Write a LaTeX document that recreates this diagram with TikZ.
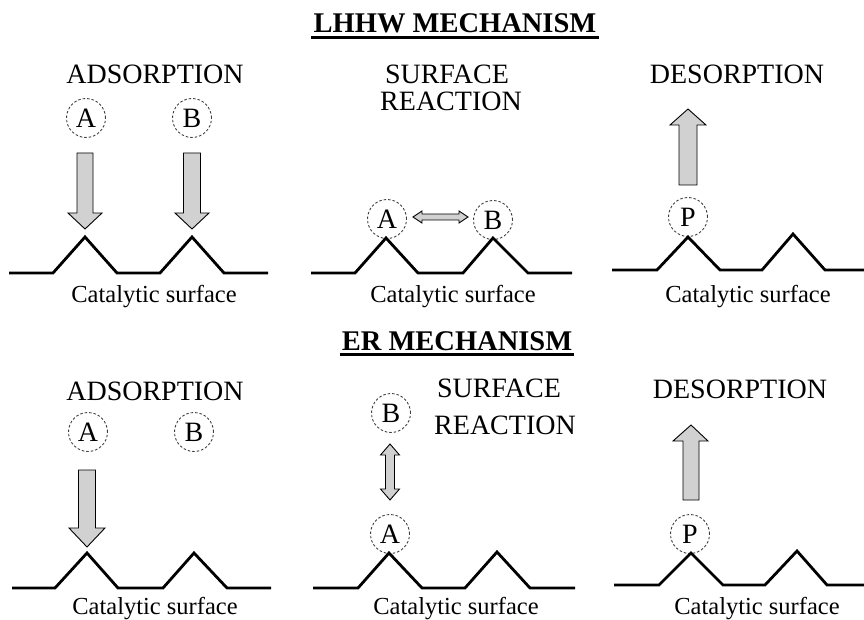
\documentclass[tikz,border=0pt]{standalone}
\usepackage{fontspec}
\setmainfont{Liberation Serif}
\usetikzlibrary{positioning}

\begin{document}
\begin{tikzpicture}[x=1pt, y=-1pt,
    mol/.style={circle, draw=black!75, dash pattern=on 2.5pt off 2pt, line width=0.9pt,
                minimum size=39pt, inner sep=0pt, font=\fontsize{28}{28}\selectfont},
    head/.style={anchor=base, inner sep=0pt, font=\fontsize{28}{28}\selectfont},
    mech/.style={anchor=base, inner sep=0pt, font=\fontsize{28.5}{28.5}\selectfont\bfseries},
    cat/.style={anchor=base, inner sep=0pt, font=\fontsize{24.5}{24.5}\selectfont},
    surf/.style={line width=2.8pt, line join=miter},
    fat/.style={draw, fill=black!18, line width=0.9pt, line join=miter}]
  \useasboundingbox (0,0) rectangle (864,620);

  % LHHW mechanism
  \node[mech] (lhhw) at (455,33) {LHHW MECHANISM};
  \draw[line width=3pt] ([xshift=-2pt, yshift=-4.5pt]lhhw.base west) -- ([xshift=2pt, yshift=-4.5pt]lhhw.base east);

  % adsorption
  \node[head] (ads1) at (155,84) {ADSORPTION};
  \node[mol] (A1) at (86,118) {A};
  \node[mol] (B1) at (192,118) {B};
  \draw[fat] (77,153) -- (93,153) -- (93,213) -- (102,213) -- (85,229) -- (68,213) -- (77,213) -- cycle;
  \draw[fat] (183.5,153) -- (200.5,153) -- (200.5,213) -- (209,213) -- (192,229) -- (175,213) -- (183.5,213) -- cycle;
  \draw[surf] (9,273) -- (53,273) -- (85,237) -- (117,273) -- (160,273) -- (192,237) -- (224,273) -- (268,273);
  \node[cat] (cat1) at (154,302) {Catalytic surface};

  % surface reaction
  \node[head] (sr1) at (447,84) {SURFACE};
  \node[head] (rx1) at (451,111) {REACTION};
  \node[mol] (A2) at (387,219) {A};
  \node[mol] (B2) at (493,220) {B};
  \draw[fat] (413,217) -- (422,211) -- (422,214) -- (459,214) -- (459,211) -- (468,217)
             -- (459,223) -- (459,220) -- (422,220) -- (422,223) -- cycle;
  \draw[surf] (311,273) -- (355,273) -- (386,238) -- (418,273) -- (463,273) -- (493,238) -- (528,273) -- (572,273);
  \node[cat] (cat2) at (453,302) {Catalytic surface};

  % desorption
  \node[head] (des1) at (737,84) {DESORPTION};
  \node[mol] (P1) at (688,217) {P};
  \draw[fat] (679,185) -- (697,185) -- (697,125) -- (706,125) -- (688,109) -- (670,125) -- (679,125) -- cycle;
  \draw[surf] (612,270) -- (657,270) -- (688,237) -- (720,270) -- (762,270) -- (793,234) -- (825,270) -- (864,270);
  \node[cat] (cat3) at (748,302) {Catalytic surface};

  % ER mechanism
  \node[mech] (er) at (457,350) {ER MECHANISM};
  \draw[line width=3pt] ([xshift=-2pt, yshift=-4pt]er.base west) -- ([xshift=2pt, yshift=-4pt]er.base east);

  % adsorption
  \node[head] (ads2) at (155,400) {ADSORPTION};
  \node[mol] (A3) at (88,432) {A};
  \node[mol] (B3) at (194,432) {B};
  \draw[fat] (78.5,470) -- (95.5,470) -- (95.5,528) -- (105,528) -- (87,547) -- (69,528) -- (78.5,528) -- cycle;
  \draw[surf] (12,588) -- (55,588) -- (87,553) -- (118,588) -- (163,588) -- (194,553) -- (227,588) -- (271,588);
  \node[cat] (cat4) at (155,614) {Catalytic surface};

  % surface reaction
  \node[head] (sr2) at (499,397) {SURFACE};
  \node[head] (rx2) at (505,434) {REACTION};
  \node[mol] (B4) at (391,413) {B};
  \node[mol] (A4) at (390,534) {A};
  \draw[fat] (390,444) -- (399.5,455) -- (394.5,455) -- (394.5,489) -- (399.5,489) -- (390,500)
             -- (380.5,489) -- (385.5,489) -- (385.5,455) -- (380.5,455) -- cycle;
  \draw[surf] (313,588) -- (358,588) -- (389,553) -- (422,588) -- (465,588) -- (497,552) -- (530,588) -- (575,588);
  \node[cat] (cat5) at (456,614) {Catalytic surface};

  % desorption
  \node[head] (des2) at (740,398) {DESORPTION};
  \node[mol] (P2) at (690,534) {P};
  \draw[fat] (683,500) -- (699,500) -- (699,441) -- (708,441) -- (691,425) -- (673,441) -- (683,441) -- cycle;
  \draw[surf] (614,585) -- (659,585) -- (691,553) -- (723,585) -- (765,585) -- (797,551) -- (827,585) -- (864,585);
  \node[cat] (cat6) at (757,614) {Catalytic surface};
\end{tikzpicture}
\end{document}
